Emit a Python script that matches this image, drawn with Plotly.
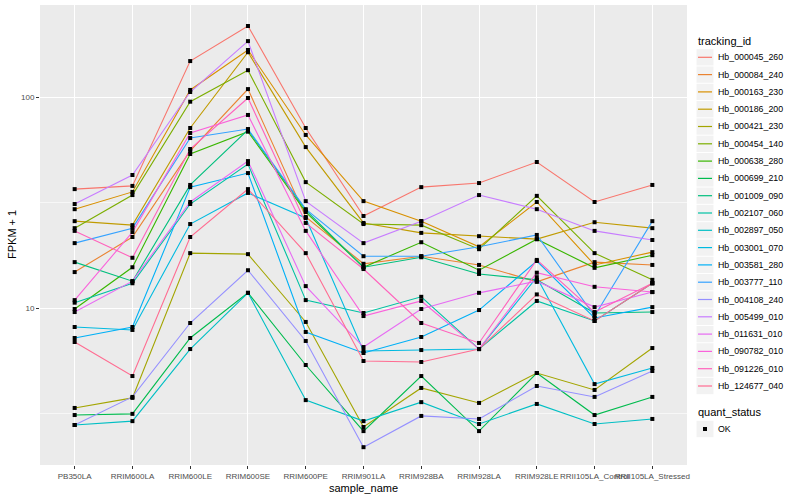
import plotly.graph_objects as go

# ---------------- data ----------------
sample_names = ["PB350LA", "RRIM600LA", "RRIM600LE", "RRIM600SE", "RRIM600PE",
                "RRIM901LA", "RRIM928BA", "RRIM928LA", "RRIM928LE",
                "RRII105LA_Control", "RRII105LA_Stressed"]

tracking_ids = ["Hb_000045_260", "Hb_000084_240", "Hb_000163_230", "Hb_000186_200",
                "Hb_000421_230", "Hb_000454_140", "Hb_000638_280", "Hb_000699_210",
                "Hb_001009_090", "Hb_002107_060", "Hb_002897_050", "Hb_003001_070",
                "Hb_003581_280", "Hb_003777_110", "Hb_004108_240", "Hb_005499_010",
                "Hb_011631_010", "Hb_090782_010", "Hb_091226_010", "Hb_124677_040"]

hb_000045_260 = [36.6, 37.9, 148, 217, 71.3, 27.3, 37.4, 39.1, 49.2, 31.8, 38.3]
hb_000084_240 = [14.8, 21.7, 55.5, 109, 27.0, 16.2, 17.6, 16.0, 13.3, 16.5, 16.0]
hb_000163_230 = [29.4, 35.5, 108, 167, 66.1, 32.1, 25.8, 19.5, 31.8, 16.0, 18.4]
hb_000186_200 = [25.8, 24.7, 71.3, 163, 57.9, 25.3, 22.7, 21.9, 21.2, 25.5, 23.9]
hb_000421_230 = [3.36, 3.75, 18.2, 18.0, 8.59, 2.73, 4.18, 3.55, 4.92, 4.09, 6.46]
hb_000454_140 = [23.9, 34.3, 95.0, 134, 39.5, 25.0, 24.7, 19.0, 34.0, 18.2, 13.6]
hb_000638_280 = [9.89, 15.6, 53.7, 68.5, 28.5, 15.6, 20.5, 15.1, 21.2, 15.5, 17.8]
hb_000699_210 = [3.11, 3.15, 7.21, 11.8, 5.37, 2.61, 4.76, 2.61, 4.92, 3.11, 3.79]
hb_001009_090 = [16.5, 13.4, 38.3, 69.8, 29.1, 15.6, 17.4, 14.5, 13.6, 9.47, 9.57]
hb_002107_060 = [10.6, 13.1, 31.1, 48.1, 10.9, 9.47, 11.3, 6.39, 10.8, 8.68, 13.1]
hb_002897_050 = [2.79, 2.91, 6.39, 11.8, 3.66, 2.91, 3.58, 2.82, 3.51, 2.82, 2.98]
hb_003001_070 = [8.13, 7.87, 25.0, 35.1, 26.7, 6.26, 6.32, 6.39, 14.0, 4.36, 5.20]
hb_003581_280 = [7.21, 8.13, 37.4, 43.6, 7.70, 6.12, 7.29, 9.78, 16.7, 8.97, 10.1]
hb_003777_110 = [20.3, 23.9, 63.9, 70.5, 29.4, 17.6, 17.6, 19.5, 22.2, 9.16, 25.8]
hb_004108_240 = [2.79, 3.79, 8.49, 15.1, 6.98, 2.19, 3.08, 2.98, 4.27, 3.79, 5.03]
hb_005499_010 = [31.1, 42.7, 105.6, 184, 32.1, 20.3, 25.8, 34.3, 29.4, 23.2, 21.0]
hb_011631_010 = [9.57, 13.4, 31.8, 49.7, 12.7, 6.53, 9.89, 11.8, 13.4, 10.1, 11.9]
hb_090782_010 = [10.9, 22.9, 67.5, 82.2, 23.2, 9.16, 10.8, 6.39, 14.7, 12.6, 11.9]
hb_091226_010 = [23.2, 17.3, 56.7, 98.9, 25.3, 15.3, 8.49, 6.83, 16.9, 9.57, 13.1]
hb_124677_040 = [6.90, 4.76, 21.7, 36.6, 18.2, 5.61, 5.55, 6.39, 11.6, 8.68, 13.1]

quant_status = ["OK"]

series_values = [hb_000045_260, hb_000084_240, hb_000163_230, hb_000186_200,
                 hb_000421_230, hb_000454_140, hb_000638_280, hb_000699_210,
                 hb_001009_090, hb_002107_060, hb_002897_050, hb_003001_070,
                 hb_003581_280, hb_003777_110, hb_004108_240, hb_005499_010,
                 hb_011631_010, hb_090782_010, hb_091226_010, hb_124677_040]

# ---------------- styles ----------------
colors = ["#F8766D", "#EA8331", "#D89000", "#C09B00", "#A3A500", "#7CAE00",
          "#39B600", "#00BB4E", "#00BF7D", "#00C1A3", "#00BFC4", "#00BAE0",
          "#00B0F6", "#35A2FF", "#9590FF", "#C77CFF", "#E76BF3", "#FA62DB",
          "#FF62BC", "#FF6C91"]

FONT = "Liberation Sans, Arial, Helvetica, sans-serif"
W, H = 800, 500
ML, MR, MT, MB = 40, 113, 5, 35
PW, PH = W - ML - MR, H - MT - MB


def px_x(p):
    return (p - ML) / PW


def px_y(p):
    return (H - MB - p) / PH


fig = go.Figure()

for name, vals, col in zip(tracking_ids, series_values, colors):
    fig.add_trace(go.Scatter(x=sample_names, y=vals, mode="lines", name=name,
                             line=dict(color=col, width=1.1), showlegend=False,
                             hoverinfo="skip"))
for name, vals in zip(tracking_ids, series_values):
    fig.add_trace(go.Scatter(x=sample_names, y=vals, mode="markers", name=name,
                             marker=dict(color="black", symbol="square", size=4),
                             showlegend=False))

shapes = []
# minor horizontal grid lines (ggplot style)
for mv in [10 ** 0.5, 10 ** 1.5]:
    shapes.append(dict(type="line", xref="paper", yref="y", x0=0, x1=1, y0=mv, y1=mv,
                       line=dict(color="white", width=0.6), layer="below"))

annotations = []
# axis titles
annotations.append(dict(text="sample_name", xref="paper", yref="paper",
                        x=0.5, y=px_y(488), xanchor="center", yanchor="middle",
                        showarrow=False, font=dict(family=FONT, size=11, color="black")))
annotations.append(dict(text="FPKM + 1", xref="paper", yref="paper", textangle=-90,
                        x=px_x(12), y=0.5, xanchor="center", yanchor="middle",
                        showarrow=False, font=dict(family=FONT, size=11, color="black")))

# manual legend: tracking_id
leg_x0 = 696.5
key_w = 17
first_y = 57.3
step = 17.3
annotations.append(dict(text="tracking_id", xref="paper", yref="paper",
                        x=px_x(leg_x0 - 1), y=px_y(40.5), xanchor="left", yanchor="middle",
                        showarrow=False, font=dict(family=FONT, size=11, color="black")))
for i, (name, col) in enumerate(zip(tracking_ids, colors)):
    cy = first_y + i * step
    shapes.append(dict(type="rect", xref="paper", yref="paper",
                       x0=px_x(leg_x0), x1=px_x(leg_x0 + key_w),
                       y0=px_y(cy - step / 2 + 0.5), y1=px_y(cy + step / 2 - 0.5),
                       fillcolor="#F2F2F2", line=dict(width=0)))
    shapes.append(dict(type="line", xref="paper", yref="paper",
                       x0=px_x(leg_x0 + 1.5), x1=px_x(leg_x0 + key_w - 1.5),
                       y0=px_y(cy), y1=px_y(cy), line=dict(color=col, width=1.2)))
    annotations.append(dict(text=name, xref="paper", yref="paper",
                            x=px_x(leg_x0 + key_w + 2), y=px_y(cy), xanchor="left",
                            yanchor="middle", showarrow=False,
                            font=dict(family=FONT, size=8.8, color="black")))

# manual legend: quant_status
annotations.append(dict(text="quant_status", xref="paper", yref="paper",
                        x=px_x(leg_x0 - 1), y=px_y(412), xanchor="left", yanchor="middle",
                        showarrow=False, font=dict(family=FONT, size=11, color="black")))
ok_y = 429
shapes.append(dict(type="rect", xref="paper", yref="paper",
                   x0=px_x(leg_x0), x1=px_x(leg_x0 + key_w),
                   y0=px_y(ok_y - 8.2), y1=px_y(ok_y + 8.2),
                   fillcolor="#F2F2F2", line=dict(width=0)))
shapes.append(dict(type="rect", xref="paper", yref="paper",
                   x0=px_x(leg_x0 + key_w / 2 - 2), x1=px_x(leg_x0 + key_w / 2 + 2),
                   y0=px_y(ok_y - 2), y1=px_y(ok_y + 2),
                   fillcolor="black", line=dict(width=0)))
annotations.append(dict(text=quant_status[0], xref="paper", yref="paper",
                        x=px_x(leg_x0 + key_w + 2), y=px_y(ok_y), xanchor="left",
                        yanchor="middle", showarrow=False,
                        font=dict(family=FONT, size=8.8, color="black")))

fig.update_layout(
    width=W, height=H,
    margin=dict(l=ML, r=MR, t=MT, b=MB, pad=0, autoexpand=False),
    paper_bgcolor="white", plot_bgcolor="#EBEBEB",
    font=dict(family=FONT, color="black"),
    showlegend=False,
    shapes=shapes, annotations=annotations,
    xaxis=dict(type="category", categoryorder="array", categoryarray=sample_names,
               range=[-0.6, 10.6], showgrid=True, gridcolor="white", gridwidth=1.1,
               zeroline=False, showline=False, ticks="outside", ticklen=3,
               tickcolor="#333333", tickwidth=1, tickangle=0, automargin=False,
               tickfont=dict(family=FONT, size=8, color="#4D4D4D")),
    yaxis=dict(type="log", range=[0.256, 2.436], tickvals=[10, 100], ticktext=["10", "100"],
               showgrid=True, gridcolor="white", gridwidth=1.1, zeroline=False,
               showline=False, ticks="outside", ticklen=3, tickcolor="#333333", tickwidth=1,
               automargin=False,
               tickfont=dict(family=FONT, size=8, color="#4D4D4D")),
)

fig.write_html("out.html", config={"displayModeBar": False},
               post_script="document.body.style.margin='0px';"
                           "document.body.style.overflow='hidden';")
